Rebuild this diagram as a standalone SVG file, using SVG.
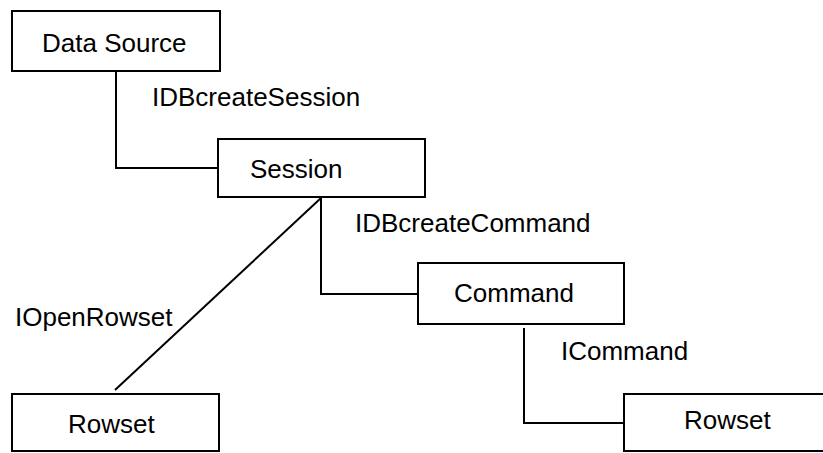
<svg xmlns="http://www.w3.org/2000/svg" width="823" height="453" viewBox="0 0 823 453">
  <style>
    .box { fill: #ffffff; stroke: #000000; stroke-width: 2; }
    .wire { fill: none; stroke: #000000; stroke-width: 2; }
    .name { font-family: "Liberation Sans", Arial, sans-serif; font-size: 26px; fill: #000000; }
  </style>
  <rect width="823" height="453" fill="#ffffff"/>

  <!-- interface connectors -->
  <g id="connectors">
    <polyline class="wire" points="116,71 116,168 218,168"/>
    <polyline class="wire" points="321,198 321,294 418,294"/>
    <line class="wire" x1="321" y1="198" x2="115" y2="390"/>
    <polyline class="wire" points="524,328 524,423 624,423"/>
    <text class="name" x="152" y="106">IDBcreateSession</text>
    <text class="name" x="355" y="232">IDBcreateCommand</text>
    <text class="name" x="15" y="326">IOpenRowset</text>
    <text class="name" x="561" y="360">ICommand</text>
  </g>

  <g id="data-source">
    <rect class="box" x="12" y="11" width="208" height="60"/>
    <text class="name" x="42" y="52">Data Source</text>
  </g>

  <g id="session">
    <rect class="box" x="218" y="139" width="207" height="58"/>
    <text class="name" x="250" y="178">Session</text>
  </g>

  <g id="command">
    <rect class="box" x="418" y="263" width="206" height="61"/>
    <text class="name" x="454" y="302">Command</text>
  </g>

  <g id="rowset-left">
    <rect class="box" x="12" y="394" width="207" height="57"/>
    <text class="name" x="68" y="433">Rowset</text>
  </g>

  <g id="rowset-right">
    <rect class="box" x="624" y="394" width="210" height="57"/>
    <text class="name" x="684" y="429">Rowset</text>
  </g>
</svg>
